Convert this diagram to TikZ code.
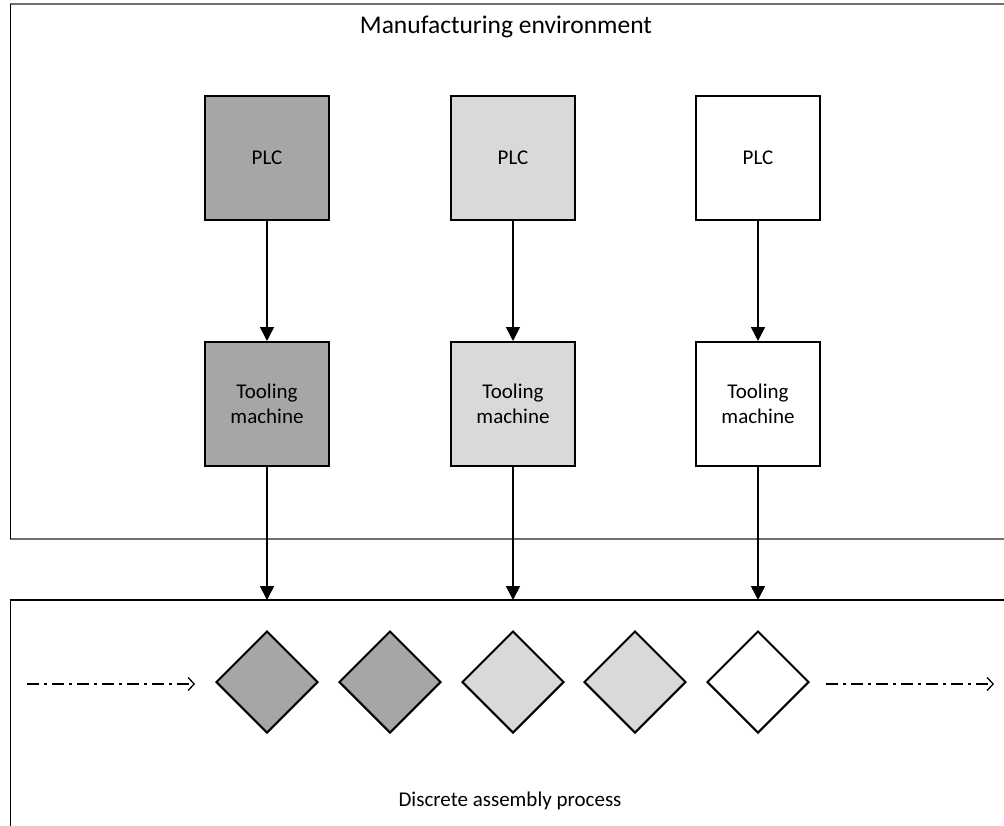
\documentclass[tikz,border=0pt]{standalone}
\usepackage{fontspec}
\setmainfont{Carlito}
\usetikzlibrary{arrows.meta,shapes.geometric}
\definecolor{darkfill}{HTML}{A6A6A6}
\definecolor{lightfill}{HTML}{D9D9D9}
\definecolor{frameedge}{HTML}{707070}
\tikzset{
  unitbox/.style={draw=black, line width=2pt, minimum width=124pt, minimum height=124pt,
    inner sep=2pt, align=center, font=\fontsize{21}{25}\selectfont},
  part/.style={draw=black, line width=2pt, shape=diamond, minimum width=102pt,
    minimum height=102pt, inner sep=0pt},
  flow/.style={line width=1.6pt, -{Triangle[width=14pt,length=14pt]}},
  stream/.style={line width=1.3pt, dash pattern=on 12pt off 5pt on 3pt off 5pt,
    -{Straight Barb[length=6pt,width=13pt,line width=1.3pt]}},
  caption/.style={font=\fontsize{21}{25}\selectfont, inner sep=0pt}
}
\begin{document}
\begin{tikzpicture}[x=1pt,y=-1pt]
\useasboundingbox (0,0) rectangle (1004,825);

% manufacturing environment frame
\fill[white] (10,4) rectangle (1010,539);
\draw[frameedge, line width=2pt] (10,4) -- (1010,4);
\draw[frameedge, line width=2pt] (10,539) -- (1010,539);
\draw[black, line width=1pt] (10,4) -- (10,539);
\node[caption, font=\fontsize{25.5}{30}\selectfont] (envlabel) at (506,27) {Manufacturing environment};

% assembly process frame
\draw[black, line width=2pt] (10,600) -- (1010,600);
\draw[black, line width=1pt] (10,600) -- (10,830);
\node[caption] (proclabel) at (510,801) {Discrete assembly process};

% controllers
\node[unitbox, fill=darkfill]  (plcA) at (267,157.5) {PLC};
\node[unitbox, fill=lightfill] (plcB) at (513,157.5) {PLC};
\node[unitbox, fill=white]     (plcC) at (758,157.5) {PLC};

% machines
\node[unitbox, fill=darkfill]  (toolA) at (267,404) {Tooling\\machine};
\node[unitbox, fill=lightfill] (toolB) at (513,404) {Tooling\\machine};
\node[unitbox, fill=white]     (toolC) at (758,404) {Tooling\\machine};

% targets on the assembly frame
\coordinate (inA) at (267,600);
\coordinate (inB) at (513,600);
\coordinate (inC) at (758,600);

\draw[flow] (plcA) -- (toolA);
\draw[flow] (plcB) -- (toolB);
\draw[flow] (plcC) -- (toolC);
\draw[flow] (toolA) -- (inA);
\draw[flow] (toolB) -- (inB);
\draw[flow] (toolC) -- (inC);

% parts on the line
\node[part, fill=darkfill]  (p1) at (267,682) {};
\node[part, fill=darkfill]  (p2) at (390,682) {};
\node[part, fill=lightfill] (p3) at (513,682) {};
\node[part, fill=lightfill] (p4) at (635,682) {};
\node[part, fill=white]     (p5) at (758,682) {};

% incoming and outgoing flow
\coordinate (inStart) at (27,684);
\coordinate (inEnd) at (195,684);
\coordinate (outStart) at (826,684);
\coordinate (outEnd) at (994,684);
\draw[stream] (inStart) -- (inEnd);
\draw[stream] (outStart) -- (outEnd);
\end{tikzpicture}
\end{document}
